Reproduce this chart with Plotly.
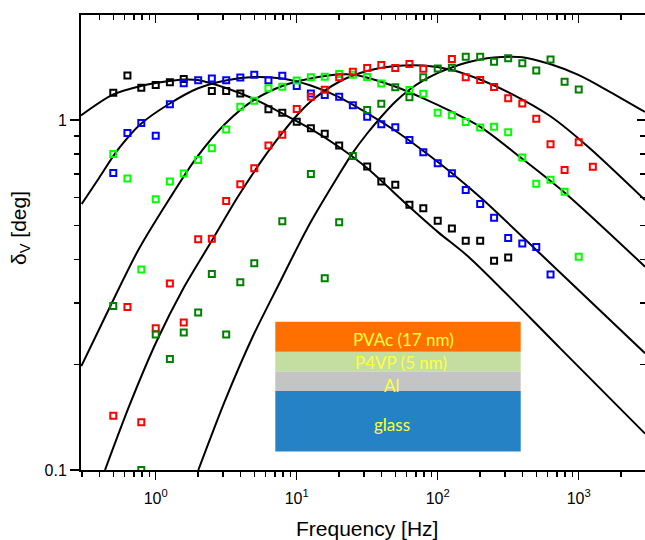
import plotly.graph_objects as go

# ---------------- data ----------------
FREQ = [0.5, 0.63, 0.79, 1.0, 1.26, 1.58, 2.0, 2.5, 3.16, 3.98, 5.0, 6.3, 7.9,
        10, 12.6, 15.8, 20, 25, 31.6, 39.8, 50, 63, 79, 100, 126, 158, 200,
        251, 316, 398, 500, 631, 794, 1000, 1259]

DELTA_BLACK = [1.197, 1.34, 1.236, 1.259, 1.282, 1.31, None, 1.21, 1.21, 1.19, None,
               1.073, 1.049, 0.989, 0.947, 0.914, 0.845, None, 0.737, 0.667, 0.653,
               0.573, 0.56, 0.515, 0.49, 0.452, 0.452, 0.396, 0.405, None, None,
               None, None, None, None]
DELTA_BLUE = [0.706, 0.918, 0.98, 0.901, 1.109, 1.273, 1.299, 1.313, 1.299, 1.323,
              1.347, 1.299, 1.339, 1.25, 1.19, 1.179, 1.166, 1.101, 1.022, 0.972,
              0.953, 0.877, 0.809, 0.752, 0.704, 0.631, 0.575, 0.526, 0.46, 0.444,
              0.434, 0.362, None, None, None]
DELTA_LIME = [0.8, 0.681, 0.374, 0.594, 0.667, 0.703, 0.768, 0.83, 0.94, 1.091,
              1.135, 1.232, 1.245, 1.297, 1.325, 1.33, 1.353, 1.346, 1.327, 1.271,
              None, 1.218, 1.189, 1.049, 1.031, 0.987, 0.952, 0.956, 0.922, 0.781,
              0.657, 0.675, 0.624, 0.407, None]
DELTA_RED = [0.143, 0.292, 0.137, 0.254, 0.341, 0.264, 0.456, 0.458, 0.587, 0.655,
             0.728, 0.845, 0.908, 1.075, 1.166, 1.221, 1.324, 1.374, 1.408, 1.436,
             1.408, 1.445, 1.401, None, 1.494, 1.324, 1.302, 1.243, 1.153, 1.115,
             1.008, 0.852, 0.72, 0.864, 0.735]
DELTA_DKGREEN = [0.294, None, 0.1, 0.244, 0.2075, 0.247, 0.282, 0.363, 0.244, 0.344,
                 0.39, None, 0.514, None, 0.701, 0.353, 0.51, 0.789, 1.068, 1.113,
                 1.24, 1.162, 1.324, 1.403, 1.411, 1.516, 1.516, 1.466, 1.5, 1.453,
                 1.385, 1.49, 1.287, 1.222, None]

# fitted curves
FIT_A_F = [0.295, 0.496, 0.787, 1.249, 1.569, 1.986, 3.15, 4.98, 7.9, 12.57, 19.95,
           31.5, 62.9, 100, 169.5, 737, 2953]
FIT_A_D = [1.030, 1.181, 1.251, 1.292, 1.305, 1.301, 1.234, 1.148, 1.044, 0.943,
           0.837, 0.729, 0.565, 0.479, 0.403, 0.223, 0.127]

FIT_B_F = [0.2986, 0.3962, 0.5376, 0.7826, 1.243, 1.979, 3.137, 4.98, 7.91, 12.57,
           19.95, 31.5, 49.8, 79.1, 125.7, 210.6, 737, 2953]
FIT_B_D = [0.5754, 0.6829, 0.821, 0.974, 1.111, 1.230, 1.297, 1.327, 1.314, 1.255,
           1.163, 1.047, 0.933, 0.8155, 0.7055, 0.5906, 0.3666, 0.2155]

FIT_C_F = [0.2967, 0.474, 0.7525, 1.249, 1.972, 3.137, 4.98, 7.906, 12.57, 19.8,
           24.8, 31.37, 49.8, 79.1, 125.7, 199.6, 394.2, 799.6, 2953]
FIT_C_D = [0.198, 0.2928, 0.4251, 0.5946, 0.7854, 0.9786, 1.141, 1.251, 1.314,
           1.349, 1.349, 1.3227, 1.2467, 1.153, 1.056, 0.957, 0.777, 0.6187, 0.381]

FIT_D_F = [0.4369, 0.6573, 1.0165, 1.5618, 2.467, 3.815, 5.891, 7.906, 9.936, 12.57,
           19.86, 31.37, 49.8, 79.1, 125.7, 199.6, 325.7, 626, 1170, 2953]
FIT_D_D = [0.1, 0.1544, 0.2336, 0.3291, 0.448, 0.6026, 0.7843, 0.9181, 1.0266,
           1.1294, 1.284, 1.380, 1.4265, 1.431, 1.3895, 1.305, 1.194, 1.0266,
           0.8374, 0.5906]

FIT_E_F = [2.005, 3.101, 4.898, 7.739, 9.725, 12.57, 19.86, 24.8, 31.37, 39.63,
           49.8, 62.57, 79.1, 99.7, 125.7, 158.8, 199.5, 250.8, 325.7, 398, 626,
           994, 1580, 2953]
FIT_E_D = [0.1, 0.1579, 0.2415, 0.349, 0.4196, 0.511, 0.6964, 0.803, 0.912, 1.020,
           1.126, 1.218, 1.297, 1.362, 1.413, 1.457, 1.489, 1.509, 1.517, 1.512,
           1.445, 1.345, 1.218, 1.054]

X_MAJOR = [1, 10, 100, 1000]
X_LABELS = ["10<sup>0</sup>", "10<sup>1</sup>", "10<sup>2</sup>", "10<sup>3</sup>"]
X_MINOR = [0.3, 0.4, 0.5, 0.6, 0.7, 0.8, 0.9, 2, 3, 4, 5, 6, 7, 8, 9,
           20, 30, 40, 50, 60, 70, 80, 90, 200, 300, 400, 500, 600, 700, 800, 900,
           2000]
Y_MAJOR = [0.1, 1]
Y_LABELS = ["0.1", "1"]
Y_MINOR = [0.2, 0.3, 0.4, 0.5, 0.6, 0.7, 0.8, 0.9, 2]

LAYERS = ["PVAc (17 nm)", "P4VP (5 nm)", "Al", "glass"]

# ---------------- figure ----------------
W, H = 645, 540
ML, MR, MT, MB = 81, 0, 15, 70
PW, PH = W - ML - MR, H - MT - MB


def pxx(px):
    return (px - ML) / PW


def pxy(py):
    return (H - MB - py) / PH


fig = go.Figure()

fits = [(FIT_A_F, FIT_A_D), (FIT_B_F, FIT_B_D), (FIT_C_F, FIT_C_D),
        (FIT_D_F, FIT_D_D), (FIT_E_F, FIT_E_D)]
for fx, fy in fits:
    fig.add_trace(go.Scatter(x=fx, y=fy, mode="lines",
                             line=dict(color="black", width=2, shape="spline", smoothing=0.8),
                             hoverinfo="skip", showlegend=False))

series = [(DELTA_BLACK, "#000000"), (DELTA_BLUE, "#0000FF"), (DELTA_LIME, "#00FF00"),
          (DELTA_RED, "#FF0000"), (DELTA_DKGREEN, "#008000")]
for vals, col in series:
    fig.add_trace(go.Scatter(x=FREQ, y=vals, mode="markers",
                             marker=dict(symbol="square-open", size=6, color=col,
                                         line=dict(width=2, color=col)),
                             showlegend=False))

# dummy traces to activate the mirrored top / right axes
fig.add_trace(go.Scatter(x=[1], y=[1], xaxis="x2", yaxis="y", mode="markers",
                         marker=dict(opacity=0), hoverinfo="skip", showlegend=False))
fig.add_trace(go.Scatter(x=[1], y=[1], xaxis="x", yaxis="y2", mode="markers",
                         marker=dict(opacity=0), hoverinfo="skip", showlegend=False))

# P4VP label as a trace so that the Al layer can overlap its lower edge
fig.add_trace(go.Scatter(x=[pxx(401)], y=[pxy(364.5)], xaxis="x3", yaxis="y3",
                         mode="text", text=[LAYERS[1]],
                         textfont=dict(family="Lato", size=17, color="#FFFF40"),
                         hoverinfo="skip", showlegend=False))

XR = [-0.53, 3.47]
YR = [-1.0, 0.3]
axis_common = dict(showline=True, linewidth=2, linecolor="black", showgrid=False,
                   zeroline=False, tickwidth=1.5, tickcolor="black", ticklen=8,
                   automargin=False)

fig.update_layout(
    width=W, height=H,
    margin=dict(l=ML, r=MR, t=MT, b=MB, autoexpand=False),
    paper_bgcolor="white", plot_bgcolor="white",
    showlegend=False,
    font=dict(family="Liberation Sans, Arial, sans-serif", size=15, color="black"),
    xaxis=dict(type="log", range=XR, ticks="outside", tickmode="array",
               tickvals=X_MAJOR, ticktext=X_LABELS, ticklabelstandoff=5,
               tickfont=dict(size=16),
               minor=dict(tickmode="array", tickvals=X_MINOR, ticks="outside",
                          ticklen=5, tickwidth=1.5, tickcolor="black", showgrid=False),
               **axis_common),
    yaxis=dict(type="log", range=YR, ticks="outside", tickmode="array",
               tickvals=Y_MAJOR, ticktext=Y_LABELS, ticklen=9,
               tickfont=dict(size=16),
               minor=dict(tickmode="array", tickvals=Y_MINOR, ticks="outside",
                          ticklen=5, tickwidth=1.5, tickcolor="black", showgrid=False),
               **{k: v for k, v in axis_common.items() if k != "ticklen"}),
    xaxis2=dict(type="log", range=XR, overlaying="x", side="top", anchor="y",
                ticks="inside", tickmode="array", tickvals=X_MAJOR,
                showticklabels=False,
                minor=dict(tickmode="array", tickvals=X_MINOR, ticks="inside",
                           ticklen=5, tickwidth=1.5, tickcolor="black", showgrid=False),
                **axis_common),
    yaxis2=dict(type="log", range=YR, overlaying="y", side="right", anchor="x",
                ticks="inside", tickmode="array", tickvals=Y_MAJOR,
                showticklabels=False,
                minor=dict(tickmode="array", tickvals=Y_MINOR, ticks="inside",
                           ticklen=5, tickwidth=1.5, tickcolor="black", showgrid=False),
                **axis_common),
    xaxis3=dict(overlaying="x", anchor="y3", range=[0, 1], visible=False, automargin=False),
    yaxis3=dict(overlaying="y", anchor="x3", range=[0, 1], visible=False, automargin=False),
)

# inset: layered sample sketch
x0, x1 = pxx(275.3), pxx(520.7)
rects = [("#FF7000", 321.7, 351.7, "above"),
         ("#C3DEA0", 351.7, 371.5, "below"),
         ("#C4C4C4", 371.5, 391.0, "above"),
         ("#2582C4", 391.0, 451.5, "above")]
for col, ytop, ybot, lay in rects:
    fig.add_shape(type="rect", xref="paper", yref="paper", x0=x0, x1=x1,
                  y0=pxy(ybot), y1=pxy(ytop), fillcolor=col,
                  line=dict(width=0), layer=lay)

lab_font = dict(family="Lato", size=17, color="#FFFF40")
for txt, cx, cy in [(LAYERS[0], 403, 339), (LAYERS[2], 391.7, 385.5), (LAYERS[3], 392, 424.5)]:
    fig.add_annotation(text=txt, x=pxx(cx), y=pxy(cy), xref="paper", yref="paper",
                       xanchor="center", yanchor="middle", showarrow=False, font=lab_font)

# axis titles
fig.add_annotation(text="Frequency [Hz]", x=pxx(367), y=pxy(528), xref="paper", yref="paper",
                   xanchor="center", yanchor="middle", showarrow=False,
                   font=dict(size=21))
fig.add_annotation(text="δ<sub>V</sub> [deg]", x=pxx(20), y=pxy(228), xref="paper", yref="paper",
                   xanchor="center", yanchor="middle", showarrow=False, textangle=-90,
                   font=dict(size=21))

# remove the browser's default page margin so the figure sits at the window origin
fig.write_html("out.html",
               config={"displayModeBar": False, "staticPlot": True},
               post_script="document.body.style.margin='0';"
                           "document.body.style.padding='0';"
                           "document.body.style.overflow='hidden';")
